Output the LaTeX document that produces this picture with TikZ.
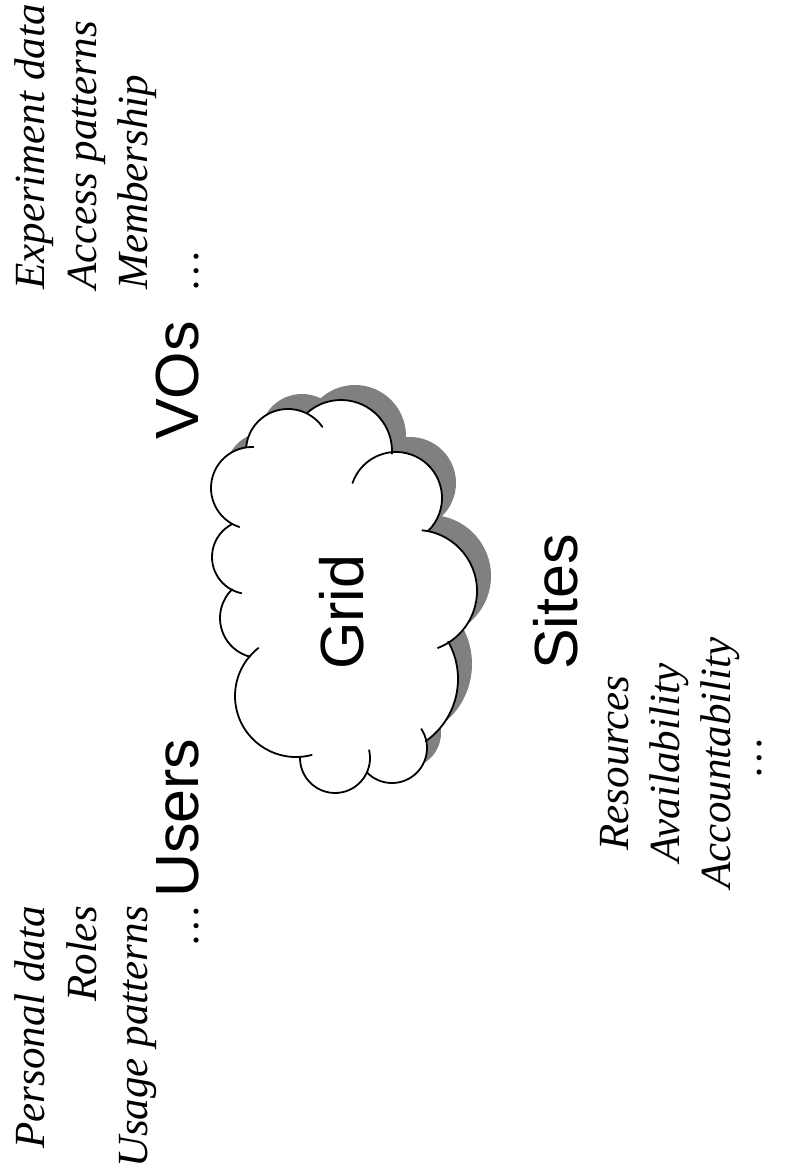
\documentclass[tikz,border=0pt]{standalone}
\usepackage{fontspec}
\setmainfont{Liberation Serif}
\newfontfamily\labelfont{Liberation Sans}
\definecolor{shadowgray}{HTML}{808080}
\begin{document}
\begin{tikzpicture}[x=1pt,y=-1pt,
  biglabel/.style={rotate=90, inner sep=0pt, font=\labelfont\fontsize{61}{70}\selectfont},
  item/.style={rotate=90, inner sep=0pt, font=\itshape\fontsize{43}{51}\selectfont},
  cloudline/.style={line width=1.8pt, line cap=round, line join=round}]
\useasboundingbox (0,0) rectangle (786,1174);

% bumps of the cloud: centre x / centre y / radius
\def\cloudbumps{288/451/42, 341/451/51, 396/498/46, 416/591/61, 382/679/76,
  392/748/35, 335/758/35, 296/696/61, 260/618/40, 249/557/37, 252/488/41}
\def\cloudcore{(288,451) -- (341,451) -- (396,498) -- (416,591) -- (382,679)
  -- (392,748) -- (335,758) -- (296,696) -- (260,618) -- (249,557) -- (252,488) -- cycle}

% drop shadow
\begin{scope}[shift={(14,-15)}]
  \fill[shadowgray] \cloudcore;
  \foreach \cx/\cy/\cr in \cloudbumps { \fill[shadowgray] (\cx,\cy) circle[radius=\cr pt]; }
\end{scope}

% white body
\fill[white] \cloudcore;
\foreach \cx/\cy/\cr in \cloudbumps { \fill[white] (\cx,\cy) circle[radius=\cr pt]; }

% outline arcs (each one with its small inner hook)
\foreach \cx/\cy/\cr/\a/\b in {
  288/451/42/175/35,
  341/451/51/132/-3,
  396/498/46/161/-46,
  416/591/61/84/-69,
  382/679/76/29.5/-55,
  392/748/35/33/-136,
  335/758/35/13/-182,
  296/696/61/-75/-232,
  260/618/40/-104.5/-226,
  249/557/37/-102/-243,
  252/488/41/-108/-272}
  { \draw[cloudline] (\cx,\cy) ++(\a:\cr pt) arc[start angle=\a, end angle=\b, radius=\cr pt]; }

% Users
\node[item, anchor=base east] (pd) at (44,906) {Personal data};
\node[item, anchor=base east] (roles) at (96,906) {Roles};
\node[item, anchor=base east] (usage) at (147,906) {Usage patterns};
\node[item, anchor=base east] (udots) at (198,906) {…};
\node[biglabel, anchor=base west] (users) at (198,898) {Users};

% VOs
\node[item, anchor=base west] (exp) at (44,290) {Experiment data};
\node[item, anchor=base west] (acc) at (96,290) {Access patterns};
\node[item, anchor=base west] (mem) at (147,290) {Membership};
\node[item, anchor=base west] (vdots) at (198,290) {…};
\node[biglabel, anchor=base west] (vos) at (198,440) {VOs};

% Grid and Sites
\node[biglabel, anchor=base west] (grid) at (363,670) {Grid};
\node[biglabel, anchor=base west] (sites) at (577,670) {Sites};
\node[item, anchor=base] (res) at (628,763) {Resources};
\node[item, anchor=base] (avail) at (679,763) {Availability};
\node[item, anchor=base] (acct) at (730,763) {Accountability};
\node[item, anchor=base] (sdots) at (761,757) {…};
\end{tikzpicture}
\end{document}
